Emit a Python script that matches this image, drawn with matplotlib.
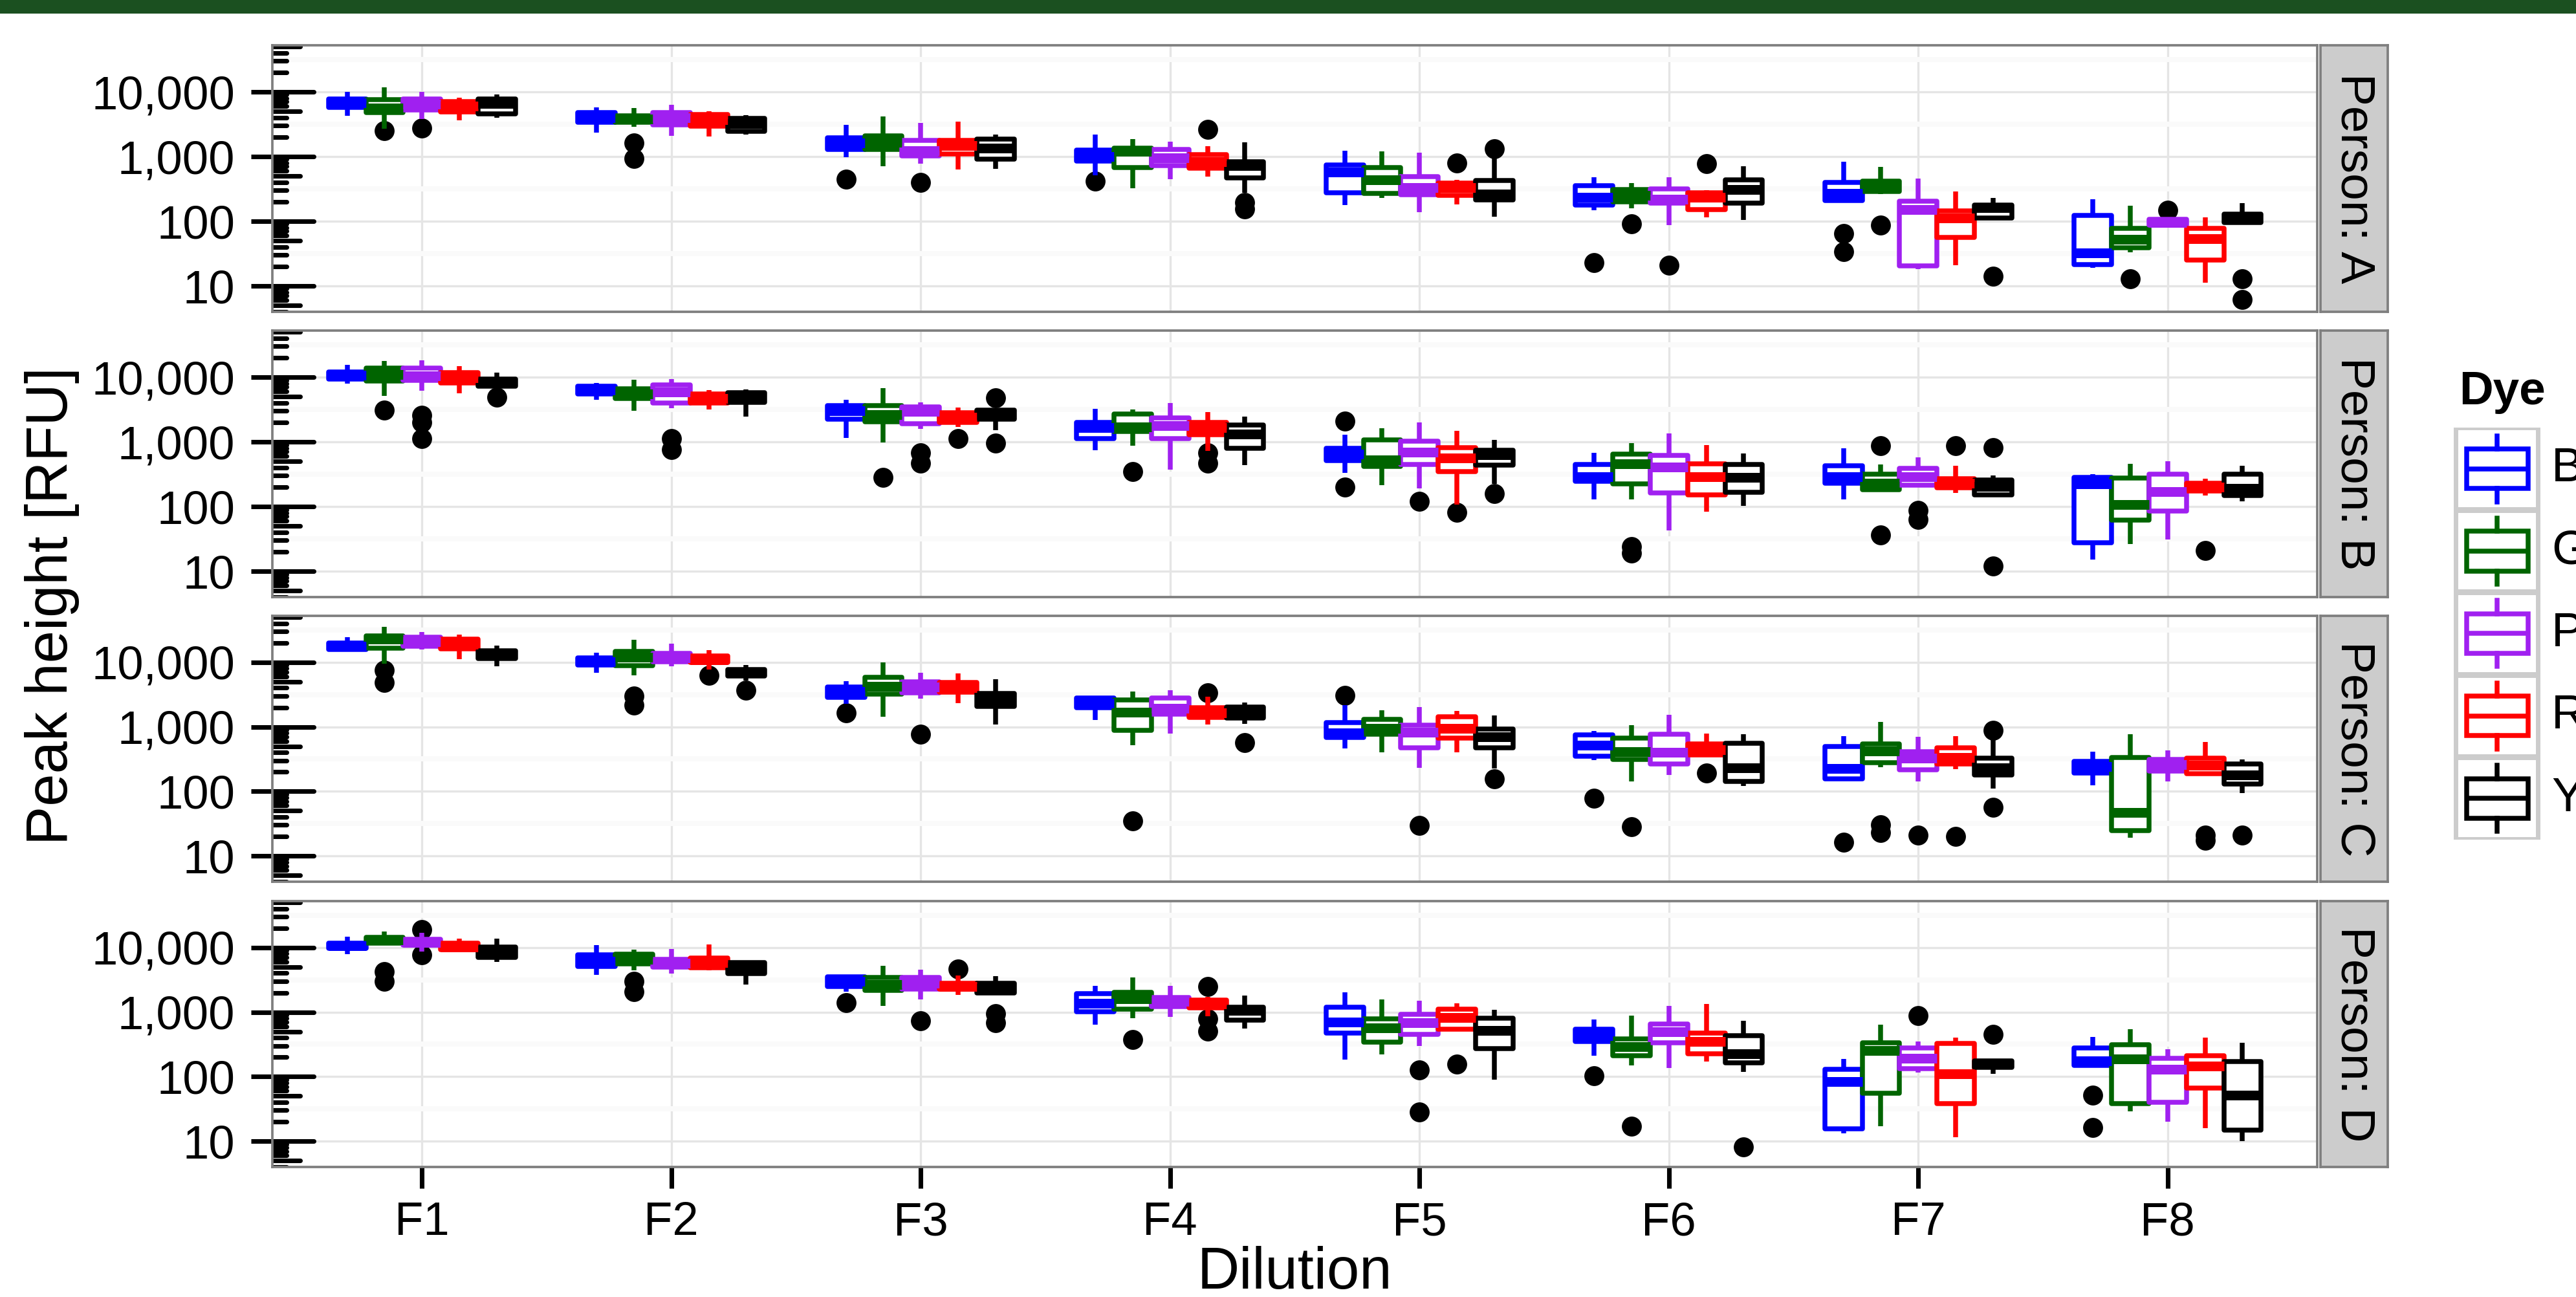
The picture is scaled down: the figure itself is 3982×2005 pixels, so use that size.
import matplotlib
matplotlib.use('Agg')
import matplotlib.pyplot as plt
from matplotlib.patches import Rectangle
from matplotlib.ticker import FixedLocator, FuncFormatter
import numpy as np

plt.rcParams['font.family'] = ['Liberation Sans', 'DejaVu Sans']

# ---------------- data (peak height, RFU) ----------------
dilutions = ['F1', 'F2', 'F3', 'F4', 'F5', 'F6', 'F7', 'F8']
dyes = ['B', 'G', 'P', 'R', 'Y']
dye_colors = ['#0000FF', '#006400', '#A020F0', '#FF0000', '#000000']
persons = ['A', 'B', 'C', 'D']

# rows = dyes (B, G, P, R, Y), columns = dilutions F1..F8
A_lo = [[4300, 2340, 970, 509, 178, 148, 200, 19],
        [2700, 2860, 703, 321, 228, 157, 261, 33],
        [3800, 2070, 776, 447, 138, 87, 18, 85],
        [3650, 2030, 631, 490, 183, 114, 21, 11.1],
        [3950, 2190, 641, 275, 118, 104, 110, 95]]
A_q1 = [[5800, 3360, 1300, 851, 277, 178, 209, 21.2],
        [4800, 3360, 1300, 671, 267, 200, 288, 38.6],
        [5250, 3110, 1010, 724, 257, 189, 20.4, 86.5],
        [4850, 2970, 1090, 661, 253, 150, 56, 25],
        [4570, 2470, 912, 468, 212, 189, 113, 95]]
A_med = [[6800, 4000, 1600, 1000, 580, 234, 270, 32],
         [5600, 3800, 1650, 1200, 437, 250, 360, 52.5],
         [6500, 4000, 1240, 962, 333, 217, 152, 96],
         [6000, 3700, 1490, 830, 333, 236, 111, 53],
         [6600, 3210, 1340, 730, 261, 311, 163, 110]]
A_q3 = [[7800, 4790, 1960, 1250, 742, 355, 401, 122],
        [7500, 4300, 2090, 1340, 671, 311, 417, 78],
        [7700, 4820, 1790, 1290, 486, 319, 206, 107],
        [7000, 4470, 1790, 1064, 386, 277, 145, 77],
        [7700, 3920, 1860, 832, 424, 433, 179, 129]]
A_hi = [[10000, 5800, 3090, 2200, 1230, 480, 838, 219],
        [11700, 5620, 4140, 1860, 1211, 389, 692, 174],
        [10000, 6360, 3330, 1700, 1140, 482, 454, 110],
        [8200, 4970, 3490, 1440, 437, 304, 286, 114],
        [9050, 4370, 2190, 1660, 940, 708, 231, 191]]
A_out = [[[], [], [447], [414], [], [23], [64, 34], []],
         [[2500], [1610, 940], [], [], [], [91], [87], [13]],
         [[2750], [], [401], [], [], [21], [], [149]],
         [[], [], [], [2650], [789], [776], [], []],
         [[], [], [], [195, 155], [1330], [], [14], [13, 6.1]]]

B_lo = [[7940, 4470, 1148, 736, 333, 128, 128, 15],
        [5090, 3040, 977, 871, 215, 128, 180, 26],
        [6210, 3290, 1585, 374, 189, 43, 210, 31],
        [5620, 3160, 1690, 724, 108, 83, 161, 147],
        [7000, 2470, 1500, 440, 224, 102, 150, 121]]
B_q1 = [[9330, 5530, 2220, 1114, 513, 244, 231, 27.7],
        [8650, 4680, 2060, 1455, 417, 225, 183, 61],
        [8980, 4010, 1890, 1130, 450, 163, 212, 85],
        [8190, 3950, 2010, 1300, 344, 150, 194, 173],
        [7300, 4070, 2220, 789, 433, 166, 152, 148]]
B_med = [[10600, 6300, 3020, 1650, 640, 286, 286, 224],
         [11000, 5500, 2630, 1710, 525, 460, 228, 106],
         [10500, 5840, 2950, 1770, 697, 410, 286, 169],
         [9800, 4700, 2400, 1660, 566, 288, 230, 200],
         [8200, 4800, 2600, 1310, 631, 282, 206, 190]]
B_q3 = [[12100, 7200, 3610, 2010, 800, 443, 427, 284],
        [13900, 6660, 3660, 2690, 1072, 650, 316, 275],
        [13900, 7640, 3490, 2340, 1030, 612, 392, 319],
        [11700, 5530, 2800, 2010, 818, 460, 267, 231],
        [9400, 5710, 3070, 1810, 741, 450, 259, 314]]
B_hi = [[15600, 8190, 4470, 3260, 1288, 671, 794, 316],
        [17900, 9120, 6810, 3160, 1610, 962, 447, 457],
        [18300, 9400, 4070, 3980, 2000, 1340, 575, 501],
        [14700, 6310, 3410, 2860, 1490, 891, 430, 267],
        [11750, 6410, 3200, 2470, 1080, 666, 304, 430]]
B_out = [[[], [], [], [], [2100, 200], [], [], []],
         [[3090], [], [280], [347], [], [24, 19], [871, 36], []],
         [[2550, 2000, 1120], [1120, 764], [681, 464], [], [121], [], [86, 63], []],
         [[], [], [1122], [681, 464], [81], [], [871], [21]],
         [[4940], [], [4750, 962], [], [158], [], [807, 12], []]]

C_lo = [[14600, 6920, 2275, 1280, 464, 302, 150, 123],
        [9400, 6310, 1440, 521, 405, 144, 236, 19],
        [15700, 8710, 2750, 794, 231, 178, 144, 141],
        [11200, 7640, 2310, 1096, 398, 340, 219, 185],
        [8570, 5250, 1096, 1122, 228, 121, 111, 93]]
C_q1 = [[15800, 8980, 2880, 1960, 681, 349, 156, 192],
        [16600, 8770, 3240, 877, 764, 311, 277, 24.7],
        [17900, 10200, 3360, 1560, 475, 267, 215, 204],
        [16200, 9850, 3410, 1390, 671, 363, 267, 189],
        [11500, 6120, 2070, 1370, 475, 141, 179, 131]]
C_med = [[17800, 10200, 3500, 2350, 807, 516, 225, 240],
         [23100, 12000, 4240, 1670, 940, 407, 417, 47],
         [21000, 11800, 4100, 1950, 826, 401, 325, 260],
         [19000, 11000, 4000, 1650, 955, 437, 333, 251],
         [13000, 6800, 2600, 1650, 703, 231, 229, 178]]
C_q3 = [[20100, 11600, 4170, 2800, 1175, 754, 498, 290],
        [25900, 14800, 5800, 2630, 1300, 661, 537, 331],
        [24700, 13600, 4940, 2770, 1072, 771, 410, 314],
        [22900, 12400, 4820, 1960, 1445, 546, 468, 326],
        [15100, 7710, 3260, 2010, 918, 558, 326, 263]]
C_hi = [[24200, 14100, 5090, 2900, 2190, 871, 708, 414],
        [35200, 22400, 10000, 3550, 1810, 1072, 1202, 776],
        [29500, 19500, 6920, 3710, 2030, 1550, 692, 427],
        [26900, 15500, 6710, 2900, 1780, 789, 708, 580],
        [18100, 9050, 5500, 2360, 1490, 764, 631, 309]]
C_out = [[[], [], [1650], [], [3090], [78], [16.1], []],
         [[7460, 4900], [2970, 2190], [], [34.7], [], [28], [30, 22.8], []],
         [[], [], [776], [], [29.7], [], [21], []],
         [[], [6270], [], [3390], [], [192], [19.8], [21, 17.4]],
         [[], [3660], [], [571], [155], [], [885, 56], [21]]]

D_lo = [[7870, 3760, 2050, 637, 185, 212, 13.1, 145],
        [11500, 4430, 1260, 809, 220, 149, 17.1, 29],
        [8660, 3940, 1570, 849, 297, 136, 115, 20],
        [9000, 4430, 1860, 867, 520, 171, 11.5, 15.8],
        [6030, 2690, 2000, 562, 89, 118, 110, 10]]
D_q1 = [[9620, 5060, 2510, 1020, 468, 349, 15.7, 148],
        [11650, 5570, 2180, 1122, 344, 209, 55, 38],
        [10900, 5010, 2280, 1220, 450, 336, 132, 40],
        [9260, 4920, 2280, 1170, 537, 225, 38, 67],
        [7080, 3980, 2000, 743, 274, 162, 139, 14.8]]
D_med = [[10600, 6200, 3000, 1360, 708, 430, 83, 177],
         [13000, 6600, 2700, 1620, 566, 290, 255, 188],
         [12000, 5700, 2800, 1450, 681, 501, 192, 129],
         [10300, 5800, 2500, 1330, 832, 347, 110, 146],
         [9000, 5000, 2350, 1050, 521, 228, 155, 51]]
D_q3 = [[11650, 7790, 3510, 1920, 1183, 537, 130, 275],
        [14500, 7940, 3410, 2030, 789, 380, 331, 314],
        [13500, 6560, 3410, 1680, 918, 650, 280, 194],
        [11650, 6890, 2820, 1520, 1114, 468, 324, 210],
        [10300, 5800, 2770, 1200, 807, 427, 177, 170]]
D_hi = [[14700, 11000, 3600, 2540, 2040, 764, 189, 414],
        [17600, 9350, 5210, 3480, 1585, 891, 641, 541],
        [17000, 9550, 4550, 2540, 1500, 1240, 352, 267],
        [13600, 11200, 3720, 1730, 1360, 1340, 398, 407],
        [13600, 6000, 3580, 1810, 1080, 736, 190, 333]]
D_out = [[[], [], [1400], [], [], [102], [], [52, 16.1]],
         [[4220, 3020], [3020, 2050], [], [376], [], [17.1], [], []],
         [[19200, 7640], [], [729], [], [126, 28], [], [891], []],
         [[], [], [4640], [2490, 787, 511], [156], [], [], []],
         [[], [], [953, 681], [], [], [8.1], [454], []]]

person_data = {
    'A': (A_lo, A_q1, A_med, A_q3, A_hi, A_out),
    'B': (B_lo, B_q1, B_med, B_q3, B_hi, B_out),
    'C': (C_lo, C_q1, C_med, C_q3, C_hi, C_out),
    'D': (D_lo, D_q1, D_med, D_q3, D_hi, D_out),
}

# ---------------- layout (pixels of the 3982x2005 canvas) ----------------
W, H, DPI = 3982, 2005, 300
fig = plt.figure(figsize=((W + 0.1) / DPI, (H + 0.1) / DPI), dpi=DPI)
fig.patch.set_facecolor('white')


def fbox(left, top, right, bottom):
    return [left / W, 1 - bottom / H, (right - left) / W, (bottom - top) / H]


panel_rows = [(70, 482), (511, 923), (952, 1363), (1393, 1804)]
ylim = (10 ** 0.6, 10 ** 4.72)
offsets = [-0.3, -0.15, 0.0, 0.15, 0.3]
lw_box = 1.8
border_col = '#7F7F7F'

for pi, person in enumerate(persons):
    top, bottom = panel_rows[pi]
    ax = fig.add_axes(fbox(421, top, 3582, bottom))
    ax.set_yscale('log')
    ax.set_xlim(0.4, 8.6)
    ax.set_ylim(*ylim)
    ax.set_axisbelow(True)

    lo, q1, med, q3, hi, out = person_data[person]
    for d, col in enumerate(dye_colors):
        stats = []
        for j in range(len(dilutions)):
            stats.append(dict(whislo=lo[d][j], q1=q1[d][j], med=med[d][j],
                              q3=q3[d][j], whishi=hi[d][j], fliers=out[d][j]))
        ax.bxp(stats, positions=np.arange(1, 9) + offsets[d], widths=0.15,
               patch_artist=True, showcaps=False, manage_ticks=False,
               boxprops=dict(facecolor='white', edgecolor=col, linewidth=lw_box,
                             joinstyle='round'),
               whiskerprops=dict(color=col, linewidth=lw_box, solid_capstyle='butt'),
               medianprops=dict(color=col, linewidth=lw_box * 2, solid_capstyle='butt'),
               flierprops=dict(marker='o', markerfacecolor='black',
                               markeredgecolor='none', markersize=7.4, zorder=1.6))

    # grid
    ax.yaxis.set_major_locator(FixedLocator([10, 100, 1000, 10000]))
    ax.yaxis.set_minor_locator(FixedLocator([10 ** (k + 0.5) for k in range(0, 5)]))
    ax.yaxis.set_major_formatter(FuncFormatter(lambda v, p: f'{int(round(v)):,}'))
    ax.grid(True, which='major', axis='both', color='#E5E5E5', linewidth=0.8)
    ax.grid(True, which='minor', axis='y', color='#FAFAFA', linewidth=1.9)
    ax.set_xticks(np.arange(1, 9))

    # log ticks inside the left edge
    for k in range(0, 5):
        for m in range(1, 10):
            v = m * 10 ** k
            if v < ylim[0] or v > ylim[1]:
                continue
            ln = 0.0202 if m == 1 else (0.0136 if m == 5 else 0.007)
            ax.plot([0, ln], [v, v], transform=ax.get_yaxis_transform(),
                    color='black', linewidth=1.7, solid_capstyle='round', zorder=5)

    ax.tick_params(axis='y', which='major', direction='out', length=7.9, width=1.7,
                   pad=6, labelsize=17.4, color='black')
    ax.tick_params(axis='y', which='minor', length=0)
    if pi == len(persons) - 1:
        ax.set_xticklabels(dilutions)
        ax.tick_params(axis='x', direction='out', length=7.9, width=1.7, pad=4.8,
                       labelsize=17.4, color='black')
    else:
        ax.tick_params(axis='x', length=0, labelbottom=False)
    for s in ax.spines.values():
        s.set_color(border_col)
        s.set_linewidth(0.9)
        s.set_zorder(6)

    # facet strip
    sx = fig.add_axes(fbox(3587, top, 3691, bottom))
    sx.set_facecolor('#CCCCCC')
    sx.set_xticks([])
    sx.set_yticks([])
    for s in sx.spines.values():
        s.set_color(border_col)
        s.set_linewidth(0.9)
    sx.text(0.5, 0.5, f'Person: {person}', rotation=-90, ha='center', va='center',
            fontsize=18, transform=sx.transAxes)

# axis titles
fig.text(2001 / W, 1 - 1968 / H, 'Dilution', ha='center', va='center', fontsize=21.7)
fig.text(80 / W, 1 - 937 / H, 'Peak height [RFU]', ha='center', va='center',
         rotation=90, fontsize=21.7)

# legend
fig.text(3801 / W, 1 - 606 / H, 'Dye', ha='left', va='center', fontsize=17.5,
         fontweight='bold')
lx = fig.add_axes(fbox(3793, 661, 3927, 1298))
lx.set_facecolor('#CCCCCC')
lx.set_xlim(0, 1)
lx.set_ylim(len(dyes), 0)
lx.set_xticks([])
lx.set_yticks([])
for s in lx.spines.values():
    s.set_visible(False)
for k, col in enumerate(dye_colors):
    lx.add_patch(Rectangle((0.055, k + 0.035), 0.89, 0.93, facecolor='white',
                           edgecolor='none', zorder=1))
    lx.bxp([dict(whislo=k + 0.9, q1=k + 0.74, med=k + 0.5, q3=k + 0.26,
                 whishi=k + 0.1, fliers=[])],
           positions=[0.5], widths=0.71, patch_artist=True, showcaps=False,
           manage_ticks=False,
           boxprops=dict(facecolor='white', edgecolor=col, linewidth=lw_box),
           whiskerprops=dict(color=col, linewidth=lw_box),
           medianprops=dict(color=col, linewidth=lw_box))
    fig.text(3944 / W, 1 - (661 + 127.4 * (k + 0.5)) / H, dyes[k], ha='left',
             va='center', fontsize=18)

# dark green band along the top
fig.add_artist(Rectangle((0, 1 - 21 / H), 1, 21 / H, transform=fig.transFigure,
                         facecolor='#1B5020', edgecolor='none'))

fig.savefig('out.png', dpi=DPI)
